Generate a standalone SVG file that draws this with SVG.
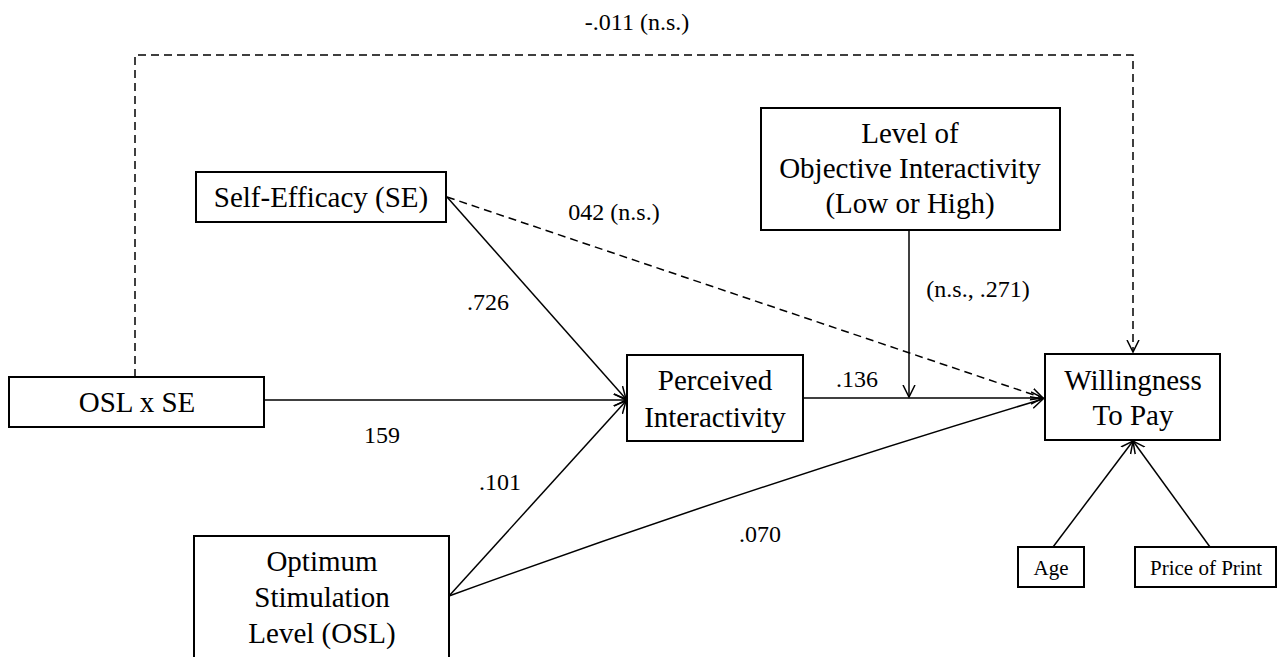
<svg xmlns="http://www.w3.org/2000/svg" width="1278" height="657" viewBox="0 0 1278 657">
<style>
text{font-family:'Liberation Serif','Times New Roman','DejaVu Serif',serif;fill:#000;text-anchor:middle}
.box{fill:#fff;stroke:#000;stroke-width:2}
.t{font-size:29px}
.s{font-size:21px}
.l{font-size:24px}
.c{fill:none;stroke:#000;stroke-width:1.5}
.d{stroke-dasharray:8 5}
</style>
<defs>
<marker id="arr" markerUnits="userSpaceOnUse" markerWidth="14" markerHeight="14" refX="12" refY="7" orient="auto">
<path d="M0,1 L12,7 L0,13" fill="none" stroke="#000" stroke-width="1.5"/>
</marker>
</defs>
<rect width="1278" height="657" fill="#fff"/>
<g id="connectors">
<path class="c d" d="M135,377 L135,55 L1133,55 L1133,352" marker-end="url(#arr)"/>
<line class="c" x1="264" y1="400" x2="626" y2="400" marker-end="url(#arr)"/>
<line class="c" x1="447" y1="197" x2="626" y2="399" marker-end="url(#arr)"/>
<line class="c d" x1="447" y1="197" x2="1043" y2="398" marker-end="url(#arr)"/>
<line class="c" x1="449" y1="596" x2="626" y2="401" marker-end="url(#arr)"/>
<path class="c" d="M449,596 Q740,490 1043,399" marker-end="url(#arr)"/>
<line class="c" x1="803" y1="398" x2="1043" y2="398" marker-end="url(#arr)"/>
<line class="c" x1="909" y1="230" x2="909" y2="397" marker-end="url(#arr)"/>
<line class="c" x1="1053" y1="547" x2="1133" y2="441" marker-end="url(#arr)"/>
<line class="c" x1="1210" y1="547" x2="1133" y2="441" marker-end="url(#arr)"/>
<text class="l" x="637" y="30">-.011 (n.s.)</text>
<text class="l" x="614" y="220">042 (n.s.)</text>
<text class="l" x="488" y="310">.726</text>
<text class="l" x="382" y="443">159</text>
<text class="l" x="500" y="490">.101</text>
<text class="l" x="857" y="387">.136</text>
<text class="l" x="978" y="297">(n.s., .271)</text>
<text class="l" x="760" y="542">.070</text>
</g>
<g id="se">
<rect class="box" x="196" y="172" width="250" height="50"/>
<text class="t" x="321" y="207">Self-Efficacy (SE)</text>
</g>
<g id="oslxse">
<rect class="box" x="9" y="377" width="255" height="50"/>
<text class="t" x="137" y="412">OSL x SE</text>
</g>
<g id="osl">
<rect class="box" x="194" y="536" width="255" height="130"/>
<text class="t" x="322" y="571">Optimum</text>
<text class="t" x="322" y="607">Stimulation</text>
<text class="t" x="322" y="643">Level (OSL)</text>
</g>
<g id="perceived">
<rect class="box" x="627" y="355" width="176" height="86"/>
<text class="t" x="715" y="390">Perceived</text>
<text class="t" x="715" y="427">Interactivity</text>
</g>
<g id="level">
<rect class="box" x="761" y="108" width="299" height="122"/>
<text class="t" x="910" y="143">Level of</text>
<text class="t" x="910" y="178">Objective Interactivity</text>
<text class="t" x="910" y="213">(Low or High)</text>
</g>
<g id="wtp">
<rect class="box" x="1045" y="354" width="175" height="86"/>
<text class="t" x="1133" y="390">Willingness</text>
<text class="t" x="1133" y="425">To Pay</text>
</g>
<g id="age">
<rect class="box" x="1018" y="547" width="66" height="40"/>
<text class="s" x="1051" y="575">Age</text>
</g>
<g id="price">
<rect class="box" x="1135" y="547" width="141" height="40"/>
<text class="s" x="1206" y="575">Price of Print</text>
</g>
</svg>
